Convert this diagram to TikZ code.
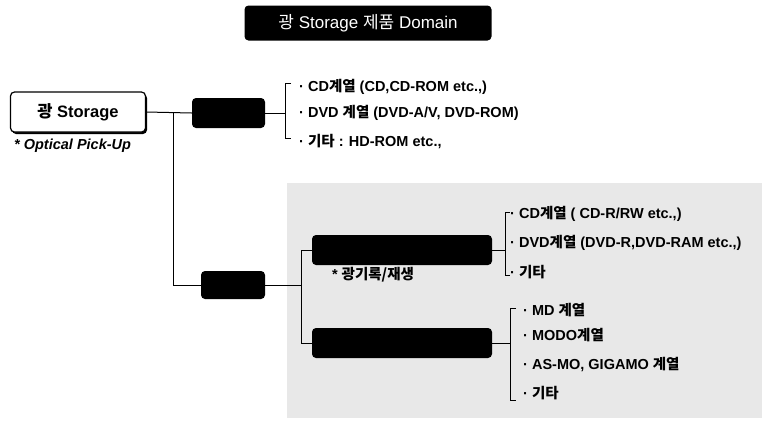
\documentclass[tikz,border=0pt]{standalone}
\usepackage{fontspec}
\setmainfont{Liberation Sans}
\newfontfamily\kr{Noto Sans CJK KR}
\tikzset{
  blackbox/.style={fill=black, rounded corners=4pt, inner sep=0pt},
  itemtext/.style={anchor=west, inner sep=0pt, font=\bfseries\fontsize{14.5}{16}\selectfont},
  link/.style={line width=1pt}
}
\begin{document}
\begin{tikzpicture}[x=1pt,y=1pt,yscale=-1]
\useasboundingbox (0,0) rectangle (769,421);

% shaded area
\fill[gray!18] (287,183) rectangle (762,418);

% title
\node[blackbox, minimum width=247, minimum height=35, text=white, font=\fontsize{17}{19}\selectfont] (title) at (368,23) {{\kr 광} Storage {\kr 제품} Domain};

% left box
\fill[black, rounded corners=4pt] (12,94) rectangle (147,134);
\node[draw, fill=white, line width=1.2pt, rounded corners=4pt, minimum width=135, minimum height=40, inner sep=0pt, font=\bfseries\fontsize{16.5}{18}\selectfont] (optical) at (78,112) {{\kr 광} Storage};
\node[anchor=west, inner sep=0pt, font=\bfseries\itshape\fontsize{14.5}{16}\selectfont] (pickup) at (14,146) {* Optical Pick-Up};

% black boxes
\node[blackbox, minimum width=73, minimum height=30] (play) at (228.5,113) {};
\node[blackbox, minimum width=64, minimum height=28] (rec) at (233,285) {};
\node[blackbox, minimum width=180, minimum height=30] (rw) at (402,250) {};
\node[blackbox, minimum width=180, minimum height=30] (mo) at (402,343) {};
\node[inner sep=0pt, font=\bfseries\fontsize{14.5}{16}\selectfont] (rwlabel) at (373,275) {* {\kr 광기록/재생}};

% connectors
\coordinate (j1) at (173,112);
\coordinate (j2) at (301,285);
\draw[link] (optical.east) -- (play.west);
\draw[link] (j1) |- (rec.west);
\draw[link] (rec.east) -- (j2);
\draw[link] (j2) |- (rw.west);
\draw[link] (j2) |- (mo.west);

% bracket 1
\coordinate (b1t) at (285,83);
\coordinate (b1b) at (285,138);
\draw[link] (play.east) -- (b1t |- play.east);
\draw[link] ([xshift=6pt]b1t) -- (b1t) -- (b1b) -- ([xshift=6pt]b1b);
\node[itemtext] (cd) at (299,87) {· CD{\kr 계열} (CD,CD-ROM etc.,)};
\node[itemtext] (dvd) at (299,113) {· DVD {\kr 계열} (DVD-A/V, DVD-ROM)};
\node[itemtext] (etc1) at (299,141) {· {\kr 기타} : HD-ROM etc.,};

% bracket 2
\coordinate (b2t) at (505,212);
\coordinate (b2b) at (505,275);
\draw[link] (rw.east) -- (b2t |- rw.east);
\draw[link] ([xshift=5pt]b2t) -- (b2t) -- (b2b) -- ([xshift=5pt]b2b);
\node[itemtext] (cdr) at (510,214) {· CD{\kr 계열} ( CD-R/RW etc.,)};
\node[itemtext] (dvdr) at (510,243) {· DVD{\kr 계열} (DVD-R,DVD-RAM etc.,)};
\node[itemtext] (etc2) at (510,272) {· {\kr 기타}};

% bracket 3
\coordinate (b3t) at (510,308);
\coordinate (b3b) at (510,400);
\draw[link] (mo.east) -- (b3t |- mo.east);
\draw[link] ([xshift=6pt]b3t) -- (b3t) -- (b3b) -- ([xshift=6pt]b3b);
\node[itemtext] (md) at (523,310) {· MD {\kr 계열}};
\node[itemtext] (modo) at (523,335) {· MODO{\kr 계열}};
\node[itemtext] (asmo) at (523,364) {· AS-MO, GIGAMO {\kr 계열}};
\node[itemtext] (etc3) at (523,393) {· {\kr 기타}};
\end{tikzpicture}
\end{document}
